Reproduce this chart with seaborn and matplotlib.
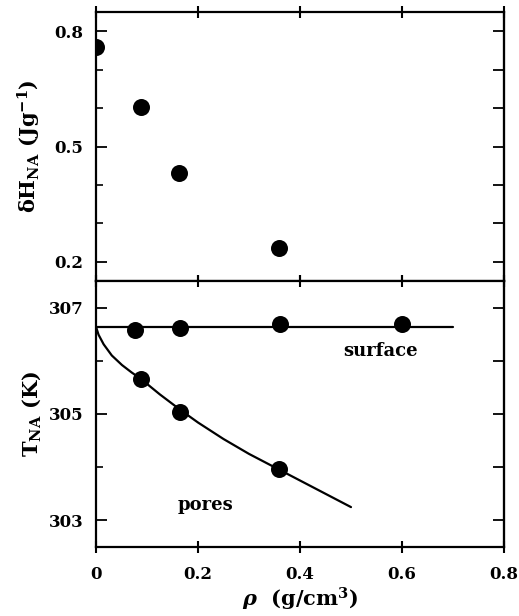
import matplotlib
matplotlib.use("Agg")
import matplotlib.pyplot as plt
import seaborn as sns
import pandas as pd
from matplotlib.ticker import MultipleLocator, FixedLocator, NullFormatter

# ---- data ----
rho_dH = [0.0, 0.088, 0.163, 0.359]
dH = [0.760, 0.603, 0.432, 0.236]

rho_surface = [0.077, 0.165, 0.360, 0.600]
T_surface = [306.57, 306.62, 306.70, 306.70]
rho_surface_line = [0.0, 0.70]
T_surface_line = [306.64, 306.64]

rho_pores = [0.088, 0.165, 0.358]
T_pores = [305.66, 305.03, 303.97]
rho_pores_line = [0.0, 0.005, 0.015, 0.031, 0.051, 0.070, 0.088, 0.125, 0.165,
                  0.20, 0.25, 0.30, 0.36, 0.43, 0.50]
T_pores_line = [306.64, 306.49, 306.31, 306.10, 305.92, 305.78, 305.66, 305.37, 305.08,
                304.84, 304.53, 304.25, 303.95, 303.60, 303.25]

x_ticks = [0, 0.2, 0.4, 0.6, 0.8]
x_ticklabels = ["0", "0.2", "0.4", "0.6", "0.8"]
top_yticks = [0.2, 0.5, 0.8]
bot_yticks = [303, 305, 307]

# ---- style ----
sns.set_style("ticks")
plt.rcParams["font.family"] = ["DejaVu Serif"]
plt.rcParams["font.weight"] = "bold"
plt.rcParams["mathtext.fontset"] = "dejavuserif"
plt.rcParams["mathtext.default"] = "bf"
plt.rcParams["axes.edgecolor"] = "black"
plt.rcParams["axes.linewidth"] = 1.5
plt.rcParams["text.color"] = "black"
plt.rcParams["axes.labelcolor"] = "black"
plt.rcParams["xtick.color"] = "black"
plt.rcParams["ytick.color"] = "black"

fig = plt.figure(figsize=(5.19, 6.16), dpi=100)
L, R = 96 / 519, 504 / 519
ax1 = fig.add_axes([L, 1 - 281 / 616, R - L, (281 - 12) / 616])
ax2 = fig.add_axes([L, 1 - 547 / 616, R - L, (547 - 281) / 616])

df_top = pd.DataFrame({"rho": rho_dH, "dH": dH})
sns.scatterplot(data=df_top, x="rho", y="dH", ax=ax1, s=150, color="black",
                edgecolor="black", linewidth=0, zorder=3)

df_sl = pd.DataFrame({"rho": rho_surface_line, "T": T_surface_line})
df_pl = pd.DataFrame({"rho": rho_pores_line, "T": T_pores_line})
sns.lineplot(data=df_sl, x="rho", y="T", ax=ax2, color="black", lw=1.6, sort=True)
sns.lineplot(data=df_pl, x="rho", y="T", ax=ax2, color="black", lw=1.6, sort=True)
sns.scatterplot(x=rho_surface, y=T_surface, ax=ax2, s=150, color="black",
                linewidth=0, zorder=3)
sns.scatterplot(x=rho_pores, y=T_pores, ax=ax2, s=150, color="black",
                linewidth=0, zorder=3)

ax2.text(0.557, 306.19, "surface", ha="center", va="center", fontsize=13, fontweight="bold")
ax2.text(0.214, 303.29, "pores", ha="center", va="center", fontsize=13, fontweight="bold")

for ax in (ax1, ax2):
    ax.set_xlim(0, 0.8)
    ax.xaxis.set_major_locator(FixedLocator(x_ticks))
    ax.tick_params(axis="x", which="major", direction="inout", length=9, width=1.5,
                   top=True, bottom=True, labelsize=12, pad=9)
    ax.tick_params(axis="y", which="major", direction="in", length=8, width=1.3,
                   left=True, right=False, labelsize=12, pad=9)
    ax.tick_params(axis="y", which="minor", direction="in", length=5, width=1.2,
                   left=True, right=False)
    for sp in ax.spines.values():
        sp.set_linewidth(1.6)

ax1.set_ylim(0.15, 0.85)
ax1.yaxis.set_major_locator(FixedLocator(top_yticks))
ax1.yaxis.set_minor_locator(MultipleLocator(0.1))
ax1.set_yticklabels(["0.2", "0.5", "0.8"])
ax1.tick_params(axis="x", labelbottom=False)
ax1.set_xlabel("")
ax1.set_ylabel(r"δH$_{\mathbf{NA}}$ (Jg$^{\mathbf{-1}}$)", fontsize=15, fontweight="bold")
ax1.yaxis.set_label_coords(-0.13, 0.5)
sec1 = ax1.secondary_yaxis("right")
sec1.yaxis.set_major_locator(MultipleLocator(0.1))
sec1.yaxis.set_major_formatter(NullFormatter())
sec1.tick_params(direction="in", length=8, width=1.3)

ax2.set_ylim(302.5, 307.5)
ax2.yaxis.set_major_locator(FixedLocator(bot_yticks))
ax2.yaxis.set_minor_locator(MultipleLocator(1))
ax2.set_yticklabels(["303", "305", "307"])
ax2.set_xticklabels(x_ticklabels)
ax2.set_ylabel(r"T$_{\mathbf{NA}}$ (K)", fontsize=15, fontweight="bold")
ax2.yaxis.set_label_coords(-0.13, 0.5)
ax2.set_xlabel(r"$\mathit{\rho}$  (g/cm$^{\mathbf{3}}$)", fontsize=15, fontweight="bold")
ax2.xaxis.set_label_coords(0.5, -0.145)
sec2 = ax2.secondary_yaxis("right")
sec2.yaxis.set_major_locator(MultipleLocator(1))
sec2.yaxis.set_major_formatter(NullFormatter())
sec2.tick_params(direction="in", length=8, width=1.3)

fig.savefig("out.png", dpi=100)
